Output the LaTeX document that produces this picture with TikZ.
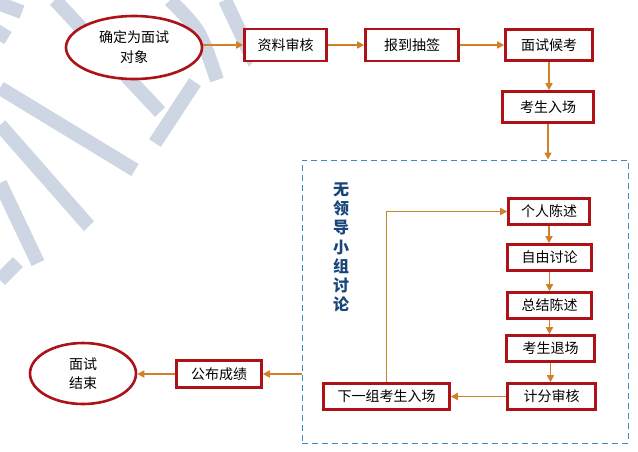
\documentclass[tikz,border=0pt]{standalone}
\usepackage{fontspec}
\newfontfamily\cjk{Noto Sans CJK SC}
\usetikzlibrary{shapes.geometric,arrows.meta}
\definecolor{boxred}{RGB}{172,18,24}
\definecolor{arr}{RGB}{210,128,40}
\definecolor{dashblue}{RGB}{60,140,190}
\definecolor{titleblue}{RGB}{25,70,120}
\definecolor{wm}{RGB}{205,214,226}
\begin{document}
\begin{tikzpicture}[x=1pt,y=-1pt,
  box/.style={draw=boxred,line width=2.6pt,fill=white,minimum height=26,inner sep=0pt,font=\cjk\fontsize{14}{17}\selectfont},
  oval/.style={ellipse,draw=boxred,line width=2.6pt,fill=white,inner sep=0pt,align=center,font=\cjk\fontsize{14}{20}\selectfont},
  arrow/.style={draw=arr,line width=1.6pt,-{Triangle[length=7pt,width=7pt]}},
  grpbox/.style={draw=dashblue,line width=1pt,dash pattern=on 6pt off 4pt,inner sep=0pt}]
\useasboundingbox (0,0) rectangle (638,451);
\fill[white] (0,0) rectangle (638,451);
% watermark
\begin{scope}
\clip (0,0) -- (315,0) -- (0,315) -- cycle;
\draw[wm,line width=14pt]
  (0,88) -- (135,170)
  (0,125) -- (95,233)
  (0,183) -- (38,263)
  (0,280) -- (18,262)
  (55,0) -- (160,112)
  (155,143) -- (195,82)
  (170,0) .. controls (200,30) .. (217,80)
  (225,0) -- (258,70)
  (-5,30) -- (8,38)
  (-5,2) -- (22,12);
\end{scope}
% nodes
\node[oval,minimum width=136,minimum height=63] (e1) at (134,47.5) {确定为面试\\对象};
\node[box,minimum width=82,minimum height=32] (zl) at (285.5,45) {资料审核};
\node[box,minimum width=93,minimum height=32] (bd) at (412,45) {报到抽签};
\node[box,minimum width=87,minimum height=31] (ms) at (549,45) {面试候考};
\node[box,minimum width=91,minimum height=31] (ks) at (548,107) {考生入场};
\node[grpbox,minimum width=326,minimum height=283] (grp) at (465,301.5) {};
\node[font=\cjk\bfseries\fontsize{16}{19.2}\selectfont,text=titleblue,align=center] (tt) at (341,247.5) {无\\领\\导\\小\\组\\讨\\论};
\node[box,minimum width=81] (gr) at (549,211.5) {个人陈述};
\node[box,minimum width=84] (zy) at (549.5,257.5) {自由讨论};
\node[box,minimum width=84] (zj) at (549.5,305.5) {总结陈述};
\node[box,minimum width=88] (tc) at (550.5,348.5) {考生退场};
\node[box,minimum width=88] (jf) at (551.5,396.5) {计分审核};
\node[box,minimum width=126] (xy) at (386.5,396.5) {下一组考生入场};
\node[box,minimum width=85,minimum height=27] (gb) at (219,374) {公布成绩};
\node[oval,minimum width=106,minimum height=61,font=\cjk\fontsize{14}{19}\selectfont] (e2) at (83,373.5) {面试\\结束};
% connectors
\draw[arrow] (e1.east |- zl.west) -- (zl.west);
\draw[arrow] (zl.east) -- (bd.west);
\draw[arrow] (bd.east) -- (ms.west);
\draw[arrow] (ms.south) -- (ms.south |- ks.north);
\draw[arrow] (ks.south) -- (ks.south |- grp.north);
\draw[arrow] (gr.south) -- (gr.south |- zy.north);
\draw[arrow] (zy.south) -- (zy.south |- zj.north);
\draw[arrow] (zj.south) -- (zj.south |- tc.north);
\draw[arrow] (tc.south) -- (tc.south |- jf.north);
\draw[arrow] (jf.west) -- (xy.east);
\draw[arrow] (xy.north) |- (gr.west);
\draw[arrow] (grp.west |- gb.east) -- (gb.east);
\draw[arrow] (gb.west) -- (e2.east |- gb.west);
\end{tikzpicture}
\end{document}
